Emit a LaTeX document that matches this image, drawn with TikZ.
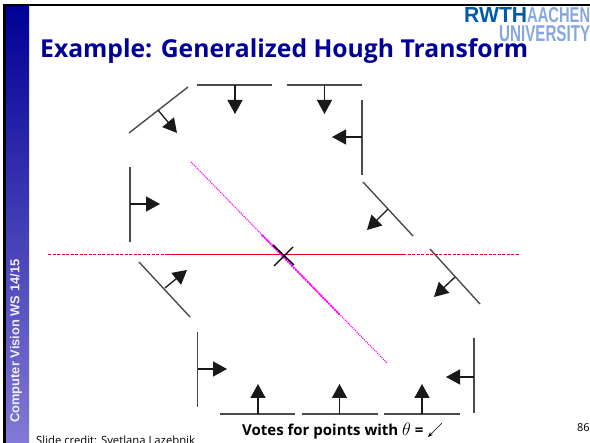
\documentclass[tikz,border=0pt]{standalone}
\usepackage{fontspec}
\setmainfont{Open Sans}
\setsansfont{Liberation Sans}
\usepackage{amsmath}
\usetikzlibrary{arrows.meta}
\definecolor{band}{RGB}{0,0,150}
\definecolor{bandlow}{RGB}{130,122,212}
\definecolor{rwth}{RGB}{0,90,170}
\definecolor{rwthlight}{RGB}{135,168,222}
\definecolor{edgegray}{RGB}{75,75,75}
\definecolor{linered}{RGB}{235,0,20}
\definecolor{linemag}{RGB}{255,0,255}

\begin{document}
\begin{tikzpicture}[
    x=1pt, y=-1pt,
    edge/.style={draw=edgegray, line width=1.4pt},
    vote/.style={-{Triangle[length=14pt, width=15pt]}, line width=1.3pt, color=black!90},
    logo/.style={inner sep=0pt, anchor=north west, font=\sffamily\bfseries\fontsize{20}{20}\selectfont},
    label/.style={inner sep=0pt, anchor=base west}
]
    \useasboundingbox (0,0) rectangle (590,443);
    \fill[white] (0,0) rectangle (590,443);

    % Frame and side band
    \fill[black] (3,4) rectangle (590,6.5);
    \fill[black] (3,4) rectangle (6,443);
    \shade[top color=band, bottom color=bandlow] (6,6.5) rectangle (29,443);
    \node[rotate=90, anchor=base west, inner sep=0pt, text=white!88!bandlow, font=\sffamily\bfseries\fontsize{12.9}{13}\selectfont] (course) at (19.5,423) {Computer Vision WS 14/15};

    % Logo
    \node[logo, text=rwth] (rwthword) at (464,7) {\resizebox{63pt}{15pt}{RWTH}};
    \node[logo, text=rwthlight] (aachen) at (527,7) {\resizebox{63pt}{15pt}{AACHEN}};
    \node[logo, text=rwthlight] (univ) at (499,25) {\resizebox{91pt}{16pt}{UNIVERSITY}};

    % Title
    \node[label, text=band, font=\bfseries\fontsize{24.7}{26}\selectfont] (title) at (40,58) {Example: Generalized Hough Transform};

    % Lines of votes
    \draw[draw=linered, line width=1pt] (165,255) -- (403,255);
    \foreach \x in {48,52.5,...,161} \draw[draw=linered, line width=1pt] (\x,255) -- (\x+3,255);
    \foreach \x in {403,407.5,...,517} \draw[draw=linered, line width=1pt] (\x,255) -- (\x+3,255);
    \draw[draw=linemag, densely dotted, line width=1.1pt] (191,162) -- (387,363);
    \draw[draw=linemag, line width=1.8pt, densely dotted] (262,235) -- (340,315);

    % Peak
    \draw[black, line width=1.4pt] (274,266) -- (293,247);
    \draw[black, line width=1.4pt] (273,245) -- (294,265);

    % Top edges
    \draw[edge] (129,133) -- (188,87);
    \draw[vote] (158,110) -- (177,133);
    \draw[edge] (197,85) -- (272,85);
    \draw[vote] (235,85) -- (235,114);
    \draw[edge] (287,85) -- (362,85);
    \draw[vote] (324.5,85) -- (324.5,114);

    % Right edges
    \draw[edge] (362,100) -- (362,175);
    \draw[vote] (362,137) -- (332,137);
    \draw[edge] (363,182) -- (413,236);
    \draw[vote] (388,209) -- (367,230);
    \draw[edge] (430,249) -- (480,304);
    \draw[vote] (455,277) -- (434,297);
    \draw[edge] (474,338) -- (474,413);
    \draw[vote] (474,377) -- (446,377);

    % Bottom edges
    \draw[edge] (384,414) -- (460,414);
    \draw[vote] (422,414) -- (422,384);
    \draw[edge] (302,414) -- (378,414);
    \draw[vote] (339.5,414) -- (339.5,384);
    \draw[edge] (220,414) -- (295,414);
    \draw[vote] (258,414) -- (258,384);

    % Left edges
    \draw[edge] (197.5,332) -- (197.5,407);
    \draw[vote] (197.5,369) -- (227,369);
    \draw[edge] (139,262) -- (190,317);
    \draw[vote] (165,288) -- (187,270);
    \draw[edge] (130,167) -- (130,242);
    \draw[vote] (130,204) -- (160,204);

    % Caption
    \node[label, font=\bfseries\fontsize{15}{17}\selectfont] (votes) at (242,436) {Votes for points with \scalebox{1.25}{$\theta$} =};
    \draw[-{Stealth[length=5pt]}, line width=0.6pt] (442,423) -- (428,437);
    \node[label, font=\fontsize{11}{13}\selectfont] (pagenum) at (577,432) {86};
    \node[label, font=\fontsize{11.3}{13}\selectfont] (credit) at (36,445) {Slide credit: Svetlana Lazebnik};
\end{tikzpicture}
\end{document}
